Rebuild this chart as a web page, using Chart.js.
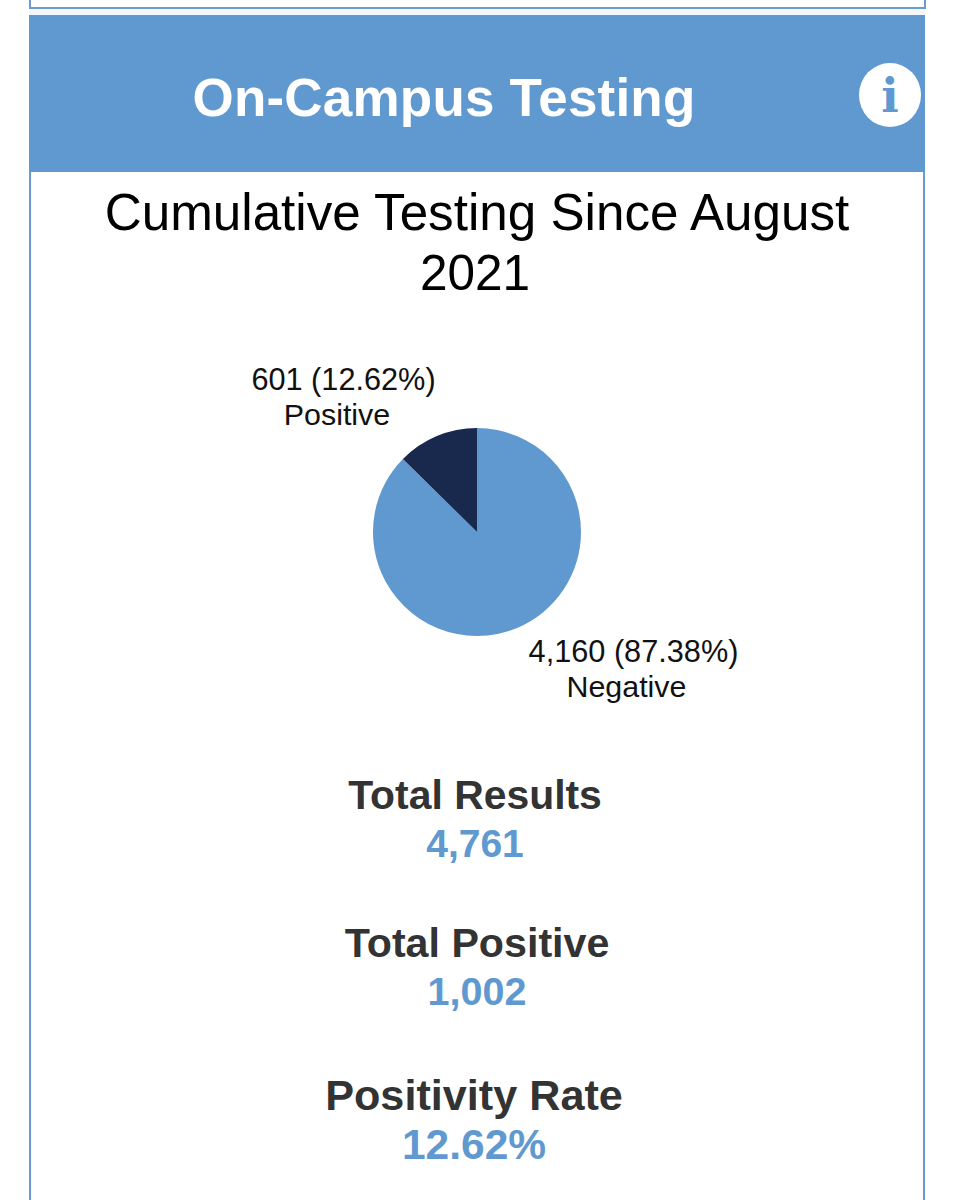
<!DOCTYPE html>
<html>
<head>
<meta charset="utf-8">
<title>On-Campus Testing</title>
<script src="https://cdn.jsdelivr.net/npm/chart.js@4"></script>
<style>
html,body{margin:0;padding:0;background:#fff;}
body{width:955px;height:1200px;position:relative;overflow:hidden;font-family:"Liberation Sans",Arial,sans-serif;}
#topbox{position:absolute;left:29px;top:-10px;width:893px;height:15px;border:2px solid #6b9ccd;}
#strip{position:absolute;left:29px;top:9px;width:896px;height:6px;background:#f2f7fb;}
#panel{position:absolute;left:29px;top:172px;width:892px;height:1040px;border:2px solid #6b9ccd;border-top:0;}
#head{position:absolute;left:29px;top:15px;width:896px;height:157px;background:#6099d0;}
.txt{position:absolute;text-align:center;white-space:nowrap;transform:translateX(-50%);}
#headTitle{left:444px;top:65px;font-size:53px;line-height:66px;font-weight:bold;color:#fff;letter-spacing:.2px;}
#info{position:absolute;left:859px;top:63px;width:62px;height:64px;border-radius:50%;background:#fff;color:#6099d0;text-align:center;font:bold 46px/66px "DejaVu Serif",serif;}
#title{left:477px;top:183px;font-size:51.2px;line-height:60px;color:#000;}
#title span{position:relative;left:-2px;font-size:49.5px;}
.lab{font-size:30.7px;line-height:35px;color:#111;}
.lab span{position:relative;font-size:30.4px;}
#labPos{left:343.5px;top:362px;}
#labPos span{left:-6.5px;}
#labNeg{left:633.5px;top:634px;}
#labNeg span{left:-7px;}
canvas{position:absolute;}
#pieWrap{position:absolute;left:363px;top:418px;width:228px;height:228px;}
.statLab{line-height:48px;font-weight:bold;color:#333;}
.statVal{line-height:48px;font-weight:bold;color:#6099d0;}
.s0{left:475px;}
.s1{left:477px;}
.s2{left:474px;}
.statLab.s0{top:771px;font-size:40.9px;}
.statVal.s0{top:820px;font-size:39px;}
.statLab.s1{top:919px;font-size:41.2px;}
.statVal.s1{top:967px;font-size:39.6px;}
.statLab.s2{top:1071px;font-size:43.2px;}
.statVal.s2{top:1121px;font-size:42.5px;}
</style>
</head>
<body>
<div id="topbox"></div>
<div id="strip"></div>
<div id="panel"></div>
<div id="head"></div>
<div id="headTitle" class="txt">On-Campus Testing</div>
<div id="info">i</div>
<div id="title" class="txt">Cumulative Testing Since August<br><span>2021</span></div>
<div id="labPos" class="txt lab"></div>
<div id="labNeg" class="txt lab"></div>
<div id="pieWrap"><canvas id="pie" width="228" height="228"></canvas></div>
<div id="stats"></div>
<script>
// === Chart data ===
const categories = ['Negative', 'Positive'];
const counts = [4160, 601];
const shares = ['87.38%', '12.62%'];
const sliceColors = ['#6099d0', '#19294d'];

const statNames = ['Total Results', 'Total Positive', 'Positivity Rate'];
const statValues = ['4,761', '1,002', '12.62%'];

// === Slice labels ===
function sliceLabel(i){
  return counts[i].toLocaleString('en-US') + ' (' + shares[i] + ')<br><span>' + categories[i] + '</span>';
}
document.getElementById('labNeg').innerHTML = sliceLabel(0);
document.getElementById('labPos').innerHTML = sliceLabel(1);

// === Stat blocks ===
document.getElementById('stats').innerHTML = statNames.map((n, i) =>
  `<div class="txt statLab s${i}">${n}</div>
   <div class="txt statVal s${i}">${statValues[i]}</div>`
).join('');

// === Pie ===
new Chart(document.getElementById('pie'), {
  type:'pie',
  data:{labels:categories, datasets:[{data:counts, backgroundColor:sliceColors, borderWidth:0}]},
  options:{
    responsive:false,
    animation:false,
    layout:{padding:10},
    plugins:{legend:{display:false}, tooltip:{enabled:false}}
  }
});
</script>
</body>
</html>
